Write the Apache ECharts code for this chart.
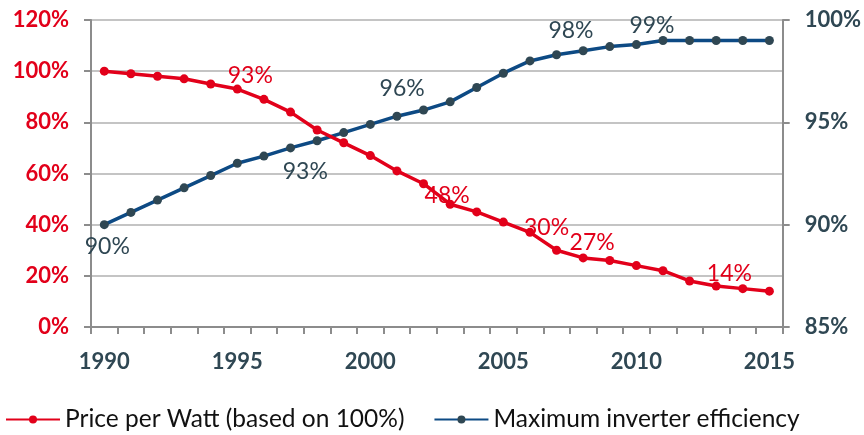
<!DOCTYPE html>
<html>
<head>
<meta charset="utf-8">
<script src="https://cdn.jsdelivr.net/npm/echarts@6/dist/echarts.min.js"></script>
<style>
  html, body { margin: 0; padding: 0; background: #ffffff; }
  #chart { width: 864px; height: 435px; }
</style>
</head>
<body>
<div id="chart"></div>
<script>
// Years on the category axis
const years = ['1990','1991','1992','1993','1994','1995','1996','1997','1998','1999',
               '2000','2001','2002','2003','2004','2005','2006','2007','2008','2009',
               '2010','2011','2012','2013','2014','2015'];

// Price per Watt, indexed to 1990 = 100 %
const pricePerWatt = [100, 99, 98, 97, 95, 93, 89, 84, 77, 72,
                      67, 61, 56, 48, 45, 41, 37, 30, 27, 26,
                      24, 22, 18, 16, 15, 14];

// Maximum inverter efficiency, %
const inverterEfficiency = [90, 90.6, 91.2, 91.8, 92.4, 93, 93.35, 93.75, 94.1, 94.5,
                            94.9, 95.3, 95.6, 96, 96.7, 97.4, 98, 98.3, 98.5, 98.7,
                            98.8, 99, 99, 99, 99, 99];

// Years whose value is annotated on each line
const priceLabelYears = ['1995', '2003', '2007', '2008', '2015'];
const efficiencyLabelYears = ['1990', '1995', '2003', '2006', '2011'];

// Left (price) and right (efficiency) axis ranges
const priceTicks = [0, 20, 40, 60, 80, 100, 120];
const efficiencyTicks = [85, 90, 95, 100];

// Where each annotation sits relative to its point
const priceLabelOffsets = {
  '1995': [13, -13], '2003': [-3, -9], '2007': [-10, -23], '2008': [9, -15], '2015': [-40, -18]
};
const efficiencyLabelOffsets = {
  '1990': [3, 22], '1995': [68, 8], '2003': [-48, -13], '2006': [41, -30], '2011': [-11, -15]
};

const RED = '#e2001a';
const BLUE = '#0d4a84';
const SLATE = '#2f4753';
const FONT = 'Lato';

function buildData(values, labelYears, offsets, color) {
  return values.map((v, i) => {
    const y = years[i];
    if (labelYears.indexOf(y) < 0) return v;
    return {
      value: v,
      label: {
        show: true,
        position: 'inside',
        offset: offsets[y],
        formatter: (p) => p.value + '%',
        color: color,
        fontFamily: FONT,
        fontSize: 23,
        align: 'center',
        verticalAlign: 'middle'
      }
    };
  });
}

const chart = echarts.init(document.getElementById('chart'), null, { renderer: 'canvas' });

chart.setOption({
  animation: false,
  backgroundColor: '#ffffff',
  grid: { left: 91, right: 81, top: 20, bottom: 108, containLabel: false },
  legend: {
    left: 0,
    top: 402,
    itemWidth: 54,
    itemHeight: 10,
    itemGap: 29,
    textStyle: { fontFamily: FONT, fontSize: 24.5, color: '#111111' },
    data: ['Price per Watt (based on 100%)', 'Maximum inverter efficiency']
  },
  xAxis: {
    type: 'category',
    data: years,
    boundaryGap: true,
    axisLine: { lineStyle: { color: '#8c8c8c', width: 2 } },
    axisTick: { show: true, interval: 0, length: 7, lineStyle: { color: '#8c8c8c', width: 2 } },
    axisLabel: {
      interval: 4,
      margin: 24,
      color: SLATE,
      fontFamily: FONT,
      fontWeight: 'bold',
      fontSize: 22
    },
    splitLine: { show: false }
  },
  yAxis: [
    {
      type: 'value',
      min: priceTicks[0],
      max: priceTicks[priceTicks.length - 1],
      interval: priceTicks[1] - priceTicks[0],
      position: 'left',
      axisLine: { show: true, lineStyle: { color: '#8c8c8c', width: 2 } },
      axisTick: { show: true, length: 7, lineStyle: { color: '#8c8c8c', width: 2 } },
      axisLabel: {
        margin: 22,
        formatter: '{value}%',
        color: RED,
        fontFamily: FONT,
        fontWeight: 'bold',
        fontSize: 22
      },
      splitLine: { show: true, lineStyle: { color: '#c4c4c4', width: 2 } }
    },
    {
      type: 'value',
      min: efficiencyTicks[0],
      max: efficiencyTicks[efficiencyTicks.length - 1],
      interval: efficiencyTicks[1] - efficiencyTicks[0],
      position: 'right',
      axisLine: { show: true, lineStyle: { color: '#8c8c8c', width: 2 } },
      axisTick: { show: true, length: 7, lineStyle: { color: '#8c8c8c', width: 2 } },
      axisLabel: {
        margin: 22,
        formatter: '{value}%',
        color: SLATE,
        fontFamily: FONT,
        fontWeight: 'bold',
        fontSize: 22
      },
      splitLine: { show: false }
    }
  ],
  series: [
    {
      name: 'Price per Watt (based on 100%)',
      type: 'line',
      yAxisIndex: 0,
      data: buildData(pricePerWatt, priceLabelYears, priceLabelOffsets, RED),
      symbol: 'circle',
      symbolSize: 9,
      lineStyle: { color: RED, width: 3.5 },
      itemStyle: { color: RED },
      z: 3
    },
    {
      name: 'Maximum inverter efficiency',
      type: 'line',
      yAxisIndex: 1,
      data: buildData(inverterEfficiency, efficiencyLabelYears, efficiencyLabelOffsets, SLATE),
      symbol: 'circle',
      symbolSize: 9,
      lineStyle: { color: BLUE, width: 3.5 },
      itemStyle: { color: SLATE },
      z: 2
    }
  ]
});
</script>
</body>
</html>
